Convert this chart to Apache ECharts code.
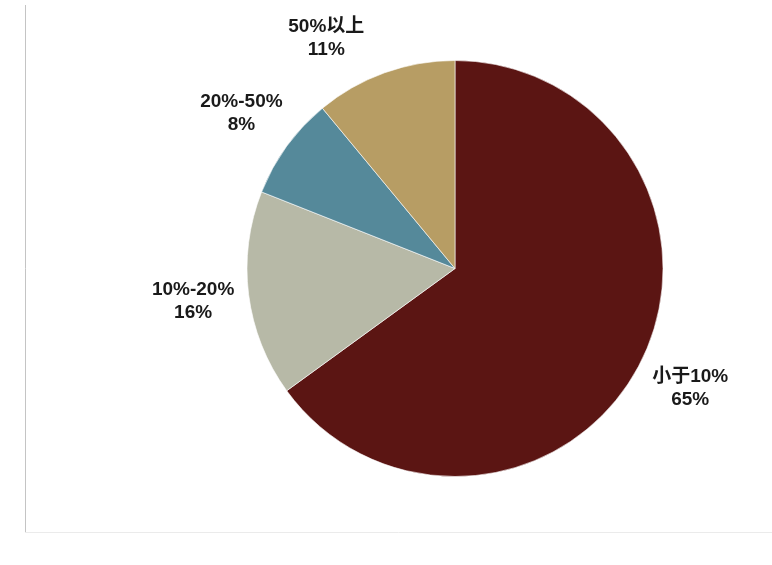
<!DOCTYPE html>
<html>
<head>
<meta charset="utf-8">
<script src="https://cdn.jsdelivr.net/npm/echarts@6/dist/echarts.min.js"></script>
<style>
html,body{margin:0;padding:0;background:#fff;}
#main{width:772px;height:565px;}
</style>
</head>
<body>
<div id="main"></div>
<script>
var categories = ['小于10%', '10%-20%', '20%-50%', '50%以上'];
var values = [65, 16, 8, 11];
var colors = ['#5B1513', '#B7B9A7', '#55899A', '#B79D64'];

var CX = 455, CY = 268.5, TOP_MARGIN = 15;
var chart = echarts.init(document.getElementById('main'), null, {renderer: 'canvas'});
var data = categories.map(function (c, i) {
  return {name: c, value: values[i], itemStyle: {color: colors[i]}};
});
chart.setOption({
  animation: false,
  backgroundColor: '#fff',
  graphic: [
    {type: 'line', shape: {x1: 25.5, y1: 5, x2: 25.5, y2: 532}, style: {stroke: '#c4c4c4', lineWidth: 1}},
    {type: 'line', shape: {x1: 25, y1: 532.5, x2: 772, y2: 532.5}, style: {stroke: '#ebebeb', lineWidth: 1}}
  ],
  series: [{
    type: 'pie',
    center: [CX, CY],
    radius: 208,
    startAngle: 90,
    clockwise: true,
    avoidLabelOverlap: false,
    data: data,
    itemStyle: {borderColor: '#ffffff', borderWidth: 0.6},
    label: {
      show: true,
      position: 'outside',
      formatter: function (p) { return p.name + '\n' + p.value + '%'; },
      fontFamily: 'Liberation Sans, Arial, Noto Sans CJK SC, sans-serif',
      fontWeight: 'bold',
      fontSize: 19,
      lineHeight: 23,
      color: '#1a1a1a',
      align: 'center'
    },
    labelLine: {show: true, length: 56, length2: 0, lineStyle: {opacity: 0}},
    labelLayout: function (p) {
      var x, y;
      var h = p.labelRect.height;
      if (p.labelLinePoints && p.labelLinePoints.length) {
        var a = p.labelLinePoints[p.labelLinePoints.length - 1];
        x = a[0]; y = a[1];
      } else {
        x = p.labelRect.x + p.labelRect.width / 2;
        y = p.labelRect.y + h / 2;
      }
      if (y - h / 2 < TOP_MARGIN) {
        var dx = x - CX, dy = y - CY;
        var R = Math.sqrt(dx * dx + dy * dy);
        var ny = TOP_MARGIN + h / 2;
        var ndy = ny - CY;
        var ndx = (dx < 0 ? -1 : 1) * Math.sqrt(Math.max(R * R - ndy * ndy, 0));
        x = CX + ndx; y = ny;
      }
      return {x: x, y: y, align: 'center', verticalAlign: 'middle'};
    },
    emphasis: {disabled: true}
  }]
});
</script>
</body>
</html>
